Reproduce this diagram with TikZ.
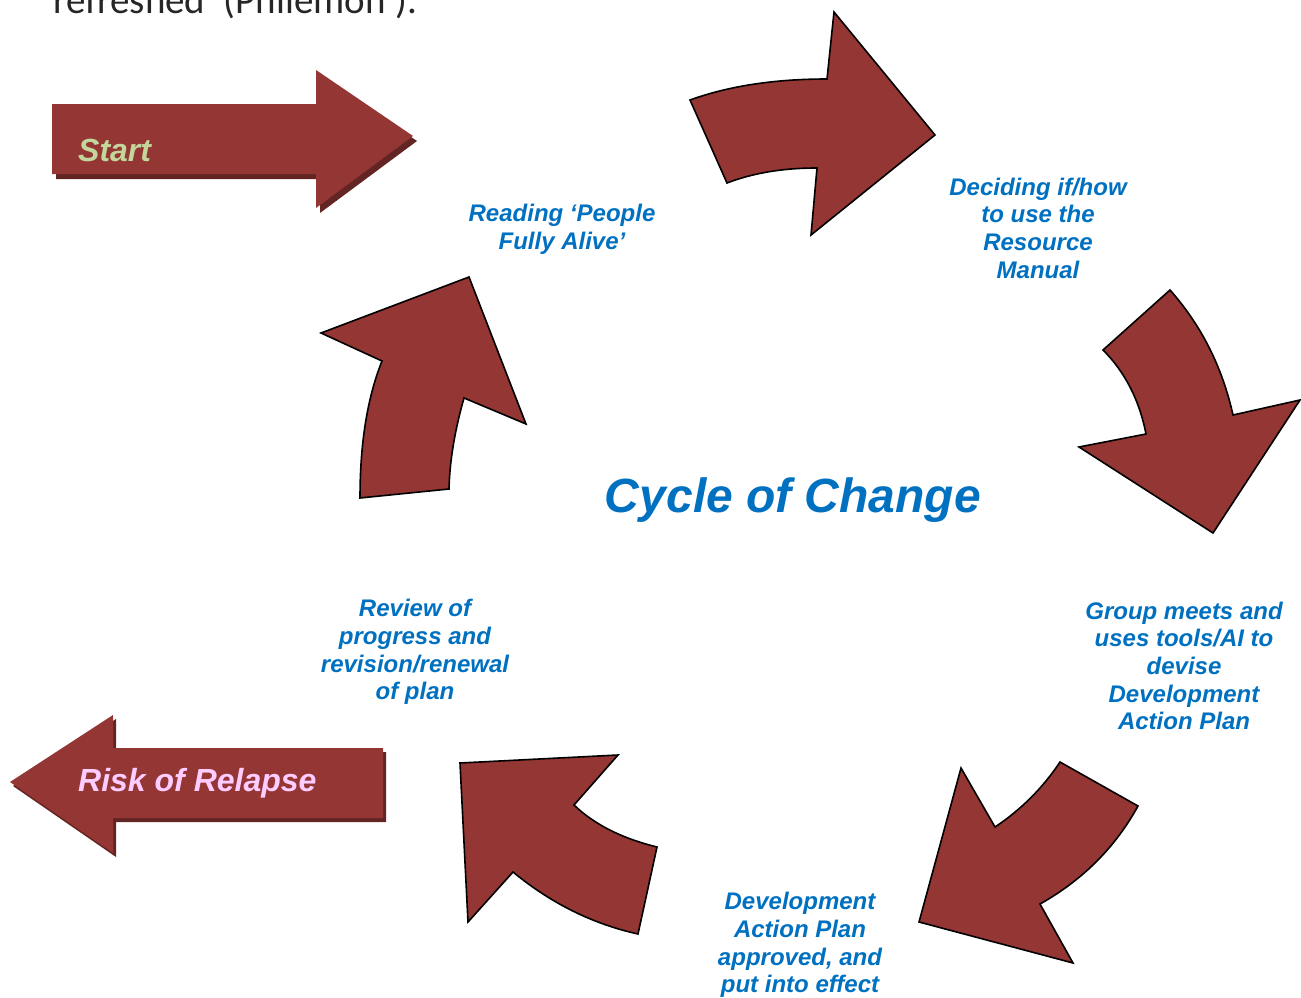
\documentclass[tikz,border=0pt]{standalone}
\usepackage{fontspec}
\setmainfont{Liberation Sans}
\newfontfamily\carl{Carlito}
\definecolor{arrowred}{HTML}{943634}
\definecolor{shadowred}{HTML}{632523}
\definecolor{labelblue}{HTML}{0070C0}
\definecolor{startgreen}{HTML}{C3D69B}
\definecolor{relapsepink}{HTML}{FFCCFF}
\begin{document}
\begin{tikzpicture}[x=1pt,y=-1pt,
  cyclearrow/.style={fill=arrowred,draw=black,line width=1.6pt,line join=miter},
  flatarrow/.style={fill=arrowred},
  flatshadow/.style={fill=shadowred},
  steplabel/.style={text=labelblue,font=\fontsize{24}{27.7}\selectfont\bfseries\itshape,align=center,inner sep=0pt},
  biglabel/.style={font=\fontsize{32}{36}\selectfont\bfseries\itshape,inner sep=0pt,anchor=west},
  titlelabel/.style={text=labelblue,font=\fontsize{48}{52}\selectfont\bfseries\itshape,inner sep=0pt}]
\useasboundingbox (0,0) rectangle (1301,998);
\clip (0,0) rectangle (1301,998);

% clipped line of body text at the top
\node[anchor=base west,inner sep=0pt,font=\carl\fontsize{39}{44}\selectfont,text=black!85] (toptext) at (53,14) {refreshed’ (Philemon’).};

% Start arrow
\fill[flatshadow,shift={(4,5)}] (52,104) -- (316,104) -- (316,70) -- (413,136) -- (316,208) -- (316,174) -- (52,174) -- cycle;
\fill[flatarrow] (52,104) -- (316,104) -- (316,70) -- (413,136) -- (316,208) -- (316,174) -- (52,174) -- cycle;
\node[biglabel,text=startgreen] (start) at (78,150) {Start};

% Risk of Relapse arrow
\fill[flatshadow,shift={(3,4)}] (10,782) -- (113,715) -- (113,748) -- (383,748) -- (383,818) -- (113,818) -- (113,853) -- cycle;
\fill[flatarrow] (10,782) -- (113,715) -- (113,748) -- (383,748) -- (383,818) -- (113,818) -- (113,853) -- cycle;
\node[biglabel,text=relapsepink] (relapse) at (78,783) {Risk of Relapse};

% top arrow (pointing right)
\draw[cyclearrow] (690,100) .. controls (728.7,86) and (774.3,79) .. (827,79) -- (834,12) -- (935,135) -- (811,235) -- (817,168)
  .. controls (783,168) and (753,173) .. (727,183) -- cycle;

% right arrow (pointing down)
\draw[cyclearrow] (1170,290) .. controls (1201.3,325.3) and (1222.3,367) .. (1233,415) -- (1300,400) -- (1213,533) -- (1079,447) -- (1146,434)
  .. controls (1139.3,400) and (1125,372) .. (1103,350) -- cycle;

% bottom right arrow (pointing down-left)
\draw[cyclearrow] (1138,806) .. controls (1115.3,847.3) and (1082.7,880) .. (1040,904) -- (1073,963) -- (919,922) -- (961,768) -- (995,827)
  .. controls (1021,809.7) and (1042.7,788) .. (1060,762) -- cycle;

% bottom arrow (pointing up-left)
\draw[cyclearrow] (638,934) .. controls (592.7,924) and (551,903.3) .. (513,872) -- (468,922) -- (460,763) -- (618,755) -- (574,805)
  .. controls (594,824.3) and (621.7,838.3) .. (657,847) -- cycle;

% left arrow (pointing up)
\draw[cyclearrow] (360,498) .. controls (360,443.3) and (367.3,397.7) .. (382,361) -- (321,333) -- (469,277) -- (526,424) -- (464,398)
  .. controls (454.7,430.7) and (449.7,461) .. (449,489) -- cycle;

% labels
\node[steplabel] (reading) at (562,229) {Reading ‘People\\Fully Alive’};
\node[steplabel] (deciding) at (1038,228) {Deciding if/how\\to use the\\Resource\\Manual};
\node[steplabel] (group) at (1184,666) {Group meets and\\uses tools/AI to\\devise\\Development\\Action Plan};
\node[steplabel] (approved) at (800,945) {Development\\Action Plan\\approved, and\\put into effect};
\node[steplabel] (review) at (415,652) {Review of\\progress and\\revision/renewal\\of plan};
\node[titlelabel] (title) at (793,500) {Cycle of Change};
\end{tikzpicture}
\end{document}
